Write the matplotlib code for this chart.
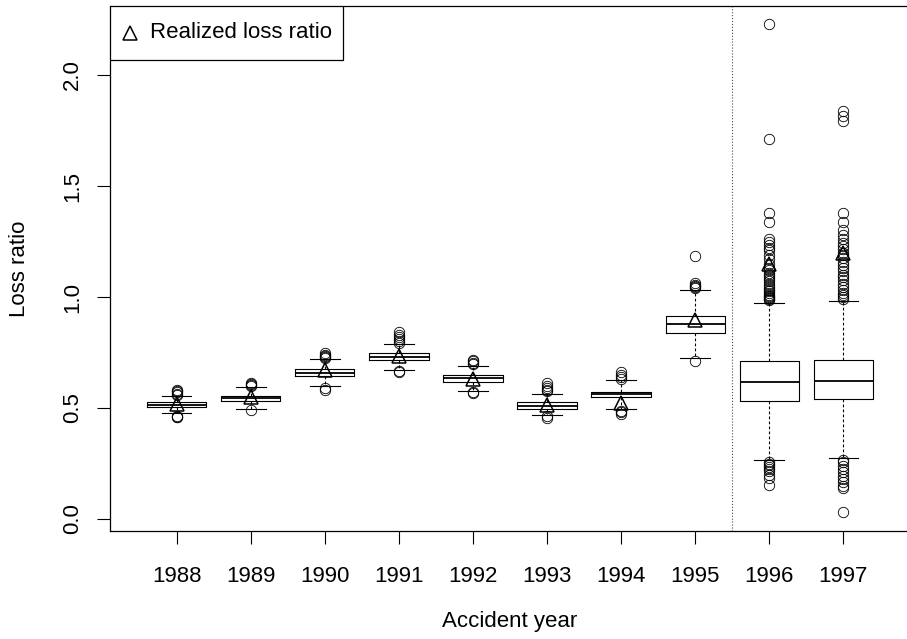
import numpy as np
import matplotlib
matplotlib.use("Agg")
import matplotlib.pyplot as plt
from matplotlib.patches import Rectangle

plt.rcParams['font.family'] = ['Liberation Sans', 'DejaVu Sans']

years = [1988, 1989, 1990, 1991, 1992, 1993, 1994, 1995, 1996, 1997]

# box statistics
q1 = [0.503, 0.532, 0.645, 0.716, 0.618, 0.496, 0.551, 0.839, 0.531, 0.540]
med = [0.514, 0.544, 0.659, 0.731, 0.634, 0.511, 0.563, 0.877, 0.617, 0.623]
q3 = [0.525, 0.555, 0.674, 0.746, 0.649, 0.526, 0.574, 0.916, 0.712, 0.717]
whislo = [0.476, 0.494, 0.600, 0.671, 0.577, 0.470, 0.494, 0.727, 0.266, 0.276]
whishi = [0.555, 0.593, 0.719, 0.790, 0.691, 0.563, 0.625, 1.032, 0.974, 0.982]

fliers = [
    [0.560, 0.565, 0.570, 0.575, 0.580, 0.465, 0.461, 0.458],
    [0.600, 0.605, 0.610, 0.614, 0.491],
    [0.725, 0.730, 0.735, 0.740, 0.749, 0.590, 0.580],
    [0.795, 0.800, 0.810, 0.820, 0.830, 0.843, 0.666, 0.664],
    [0.700, 0.705, 0.710, 0.716, 0.571, 0.566],
    [0.575, 0.580, 0.590, 0.600, 0.611, 0.462, 0.456],
    [0.630, 0.640, 0.650, 0.664, 0.488, 0.480, 0.472],
    [1.040, 1.045, 1.050, 1.055, 1.062, 1.185, 0.712],
    [0.985, 0.990, 0.995, 1.000, 1.005, 1.010, 1.020, 1.025, 1.030, 1.040,
     1.050, 1.060, 1.070, 1.080, 1.090, 1.100, 1.110, 1.120, 1.130, 1.150,
     1.170, 1.190, 1.210, 1.220, 1.235, 1.250, 1.260, 1.340, 1.380, 1.710,
     2.230, 0.258, 0.250, 0.245, 0.235, 0.225, 0.215, 0.200, 0.185, 0.153],
    [0.990, 1.000, 1.010, 1.020, 1.030, 1.045, 1.060, 1.075, 1.090, 1.100,
     1.115, 1.130, 1.145, 1.160, 1.175, 1.190, 1.200, 1.215, 1.230, 1.245,
     1.260, 1.280, 1.300, 1.340, 1.380, 1.795, 1.815, 1.840,
     0.265, 0.255, 0.240, 0.225, 0.210, 0.195, 0.180, 0.165, 0.150, 0.140, 0.033],
]

realized = [0.518, 0.551, 0.671, 0.735, 0.632, 0.512, 0.521, 0.896, 1.15, 1.20]

fig = plt.figure(figsize=(9.07, 6.39), dpi=100)
ax = fig.add_axes([110 / 907, 108 / 639, 800 / 907, 525 / 639])

stats = []
for i in range(len(years)):
    stats.append(dict(med=med[i], q1=q1[i], q3=q3[i], whislo=whislo[i],
                      whishi=whishi[i], fliers=fliers[i]))

pos = np.arange(1, len(years) + 1)
ax.bxp(stats, positions=pos, widths=0.8, showfliers=True,
       boxprops=dict(color='black', linewidth=0.8),
       medianprops=dict(color='black', linewidth=1.3),
       whiskerprops=dict(color='black', linewidth=0.8, linestyle=(0, (2.5, 2))),
       capprops=dict(color='black', linewidth=0.8),
       capwidths=0.4,
       flierprops=dict(marker='o', markerfacecolor='none', markeredgecolor='black',
                       markersize=7.5, markeredgewidth=0.6, linestyle='none'))

ax.plot(pos, realized, linestyle='none', marker='^', markersize=10,
        markerfacecolor='none', markeredgecolor='black', markeredgewidth=1.1, zorder=5)

ax.axvline(8.5, color='0.3', linestyle=':', linewidth=0.8)

ax.set_xlim(0.1, 10.9)
ax.set_ylim(-0.054, 2.311)
ax.set_xticks(pos)
ax.set_xticklabels([str(y) for y in years], fontsize=16)
ax.set_yticks([0.0, 0.5, 1.0, 1.5, 2.0])
ax.set_yticklabels(['0.0', '0.5', '1.0', '1.5', '2.0'], fontsize=16,
                   rotation=90, va='center')
ax.tick_params(axis='x', length=9.5, width=0.8, pad=16)
ax.tick_params(axis='y', length=9.5, width=0.8, pad=10)
for s in ax.spines.values():
    s.set_linewidth(0.9)

ax.set_xlabel('Accident year', fontsize=16)
ax.set_ylabel('Loss ratio', fontsize=16)
ax.xaxis.set_label_coords(0.5, -0.153)
ax.yaxis.set_label_coords(-0.1, 0.5)

# legend box, drawn by hand in axes coordinates
ax.add_patch(Rectangle((0, 1 - 54 / 525), 233 / 800, 54 / 525, transform=ax.transAxes,
                       facecolor='white', edgecolor='black', linewidth=0.9, zorder=6))
ax.plot([20 / 800], [1 - 27 / 525], transform=ax.transAxes, linestyle='none',
        marker='^', markersize=10, markerfacecolor='none', markeredgecolor='black',
        markeredgewidth=1.1, zorder=7, clip_on=False)
ax.text(40 / 800, 1 - 27 / 525, 'Realized loss ratio', transform=ax.transAxes,
        fontsize=16, va='center', ha='left', zorder=7)

fig.savefig('out.png', dpi=100)
